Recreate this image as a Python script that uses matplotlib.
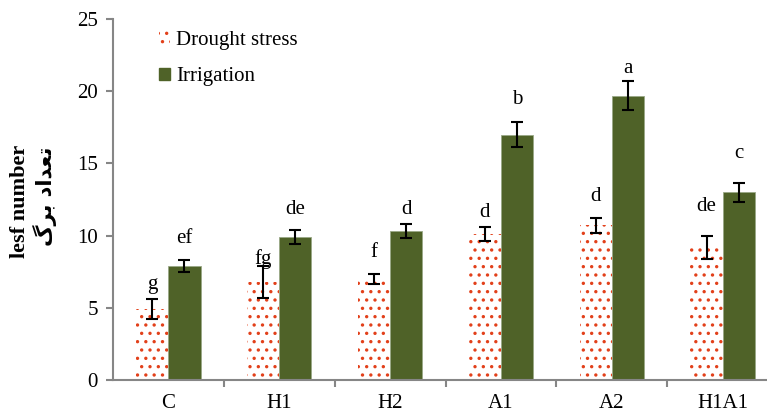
import numpy as np
import matplotlib
matplotlib.use("Agg")
import matplotlib.pyplot as plt
from matplotlib.patches import Patch

plt.rcParams['font.family'] = ['Liberation Serif', 'DejaVu Serif']
plt.rcParams['hatch.linewidth'] = 1.2

## data
categories = ["C", "H1", "H2", "A1", "A2", "H1A1"]
drought = [4.9, 6.8, 7.0, 10.1, 10.7, 9.2]
drought_err = [0.7, 1.1, 0.35, 0.5, 0.53, 0.8]
irrig = [7.9, 9.9, 10.3, 17.0, 19.7, 13.0]
irrig_err = [0.4, 0.5, 0.5, 0.87, 1.0, 0.65]
drought_letters = ["g", "fg", "f", "d", "d", "de"]
irrig_letters = ["ef", "de", "d", "b", "a", "c"]
# heights where the letters sit
drought_letter_y = [6.6, 8.4, 8.8, 11.6, 12.7, 12.0]
irrig_letter_y = [9.8, 11.8, 11.8, 19.4, 21.6, 15.7]

axis_gray = '#868686'
dot_red = '#E2401A'
olive = '#4F6228'
fs = 15

fig = plt.figure(figsize=(7.67, 4.16), dpi=100)
ax = fig.add_axes([113/767, 36/416, 665/767, 361/416])

x = np.arange(len(categories)) + 0.5
w = 0.29

ax.bar(x - w/2, drought, w, color='white', edgecolor=dot_red, linewidth=0, hatch='..')
ax.bar(x + w/2, irrig, w, color=olive, edgecolor='#9aa887', linewidth=0.6)
ax.errorbar(x - w/2, drought, yerr=drought_err, fmt='none', ecolor='black',
            elinewidth=1.5, capsize=4.3, capthick=1.5)
ax.errorbar(x + w/2, irrig, yerr=irrig_err, fmt='none', ecolor='black',
            elinewidth=1.5, capsize=4.3, capthick=1.5)

for i in range(len(categories)):
    ax.text(x[i] - w/2, drought_letter_y[i], drought_letters[i], ha='center', va='center', fontsize=fs)
    ax.text(x[i] + w/2, irrig_letter_y[i], irrig_letters[i], ha='center', va='center', fontsize=fs)

ax.set_xlim(0, 6)
ax.set_ylim(0, 25)
ax.set_yticks([0, 5, 10, 15, 20, 25])
ax.set_xticks(x)
ax.set_xticklabels(categories)
ax.set_xticks(np.arange(1, 6), minor=True)
ax.tick_params(axis='x', which='major', length=0, labelsize=fs, pad=10)
ax.tick_params(axis='x', which='minor', length=5, color=axis_gray, width=1.5)
ax.tick_params(axis='y', length=5, color=axis_gray, width=1.5, labelsize=fs, pad=6)

for s in ['top', 'right']:
    ax.spines[s].set_visible(False)
for s in ['left', 'bottom']:
    ax.spines[s].set_color(axis_gray)
    ax.spines[s].set_linewidth(1.5)

# y label: english + persian (pre-shaped, visual order)
fig.text(20/767, 1 - 201/416, "lesf number", rotation=90, ha='center', va='center',
         fontsize=16, fontweight='bold')
persian = "\uFB92\uFEAE\uFE91 \uFEA9\uFE8D\uFEAA\uFECC\uFE97"
fig.text(45/767, 1 - 196/416, persian, rotation=90, ha='center', va='center',
         fontsize=15, fontweight='bold', family=['DejaVu Sans'])

handles = [Patch(facecolor='white', edgecolor=dot_red, linewidth=0, hatch='..'),
           Patch(facecolor=olive, edgecolor=olive)]
ax.legend(handles, ["Drought stress", "Irrigation"], loc='upper left',
          bbox_to_anchor=(27/665, 1 + 7/361), frameon=False, fontsize=fs,
          handlelength=0.55, handleheight=0.55, handletextpad=0.3, labelspacing=0.85)

fig.savefig("out.png", dpi=100)
